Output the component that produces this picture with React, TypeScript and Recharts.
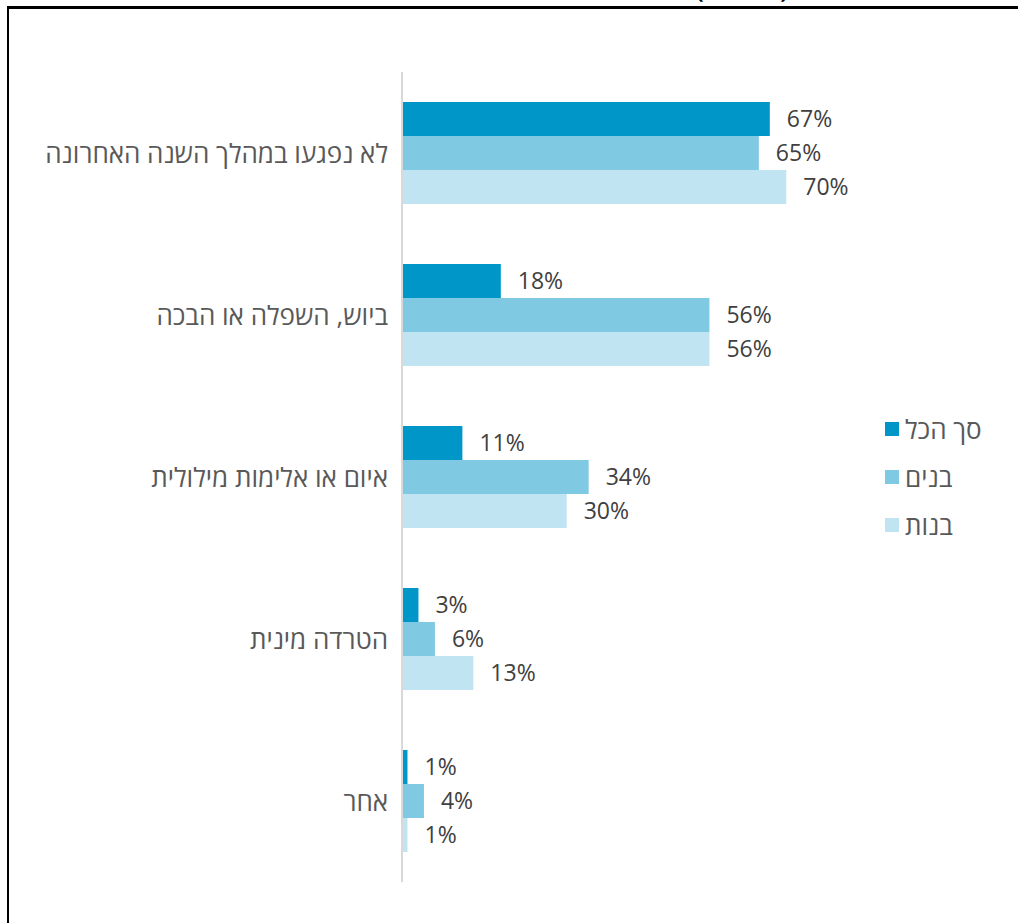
import React from "react";
import { BarChart, Bar, XAxis, YAxis, LabelList } from "recharts";

const categories = [
  "לא נפגעו במהלך השנה האחרונה",
  "ביוש, השפלה או הבכה",
  "איום או אלימות מילולית",
  "הטרדה מינית",
  "אחר",
];
const totalValues = [67, 18, 11, 3, 1];
const boysValues = [65, 56, 34, 6, 4];
const girlsValues = [70, 56, 30, 13, 1];
const seriesNames = ["סך הכל", "בנים", "בנות"];
const seriesColors = ["#0096C8", "#7FC9E3", "#C1E4F3"];

const data = categories.map((name, i) => ({
  name,
  total: totalValues[i],
  boys: boysValues[i],
  girls: girlsValues[i],
}));

const keys = ["total", "boys", "girls"];

const FONT = "'Open Sans', 'Noto Sans', 'Liberation Sans', sans-serif";

const CategoryTick = (props: any) => {
  const { x, y, payload } = props;
  return (
    <text
      x={x}
      y={y}
      dy={10}
      textAnchor="end"
      fill="#595959"
      fontSize={26}
      fontFamily={FONT}
    >
      {payload.value}
    </text>
  );
};

export default function App() {
  return (
    <div
      style={{
        position: "absolute",
        left: 0,
        top: 0,
        width: 1018,
        height: 923,
        background: "#fff",
        overflow: "hidden",
      }}
    >
      <div
        style={{
          position: "absolute",
          left: 642,
          top: -26,
          width: 200,
          textAlign: "center",
          fontFamily: FONT,
          fontWeight: 700,
          fontSize: 22,
          color: "#000",
          direction: "rtl",
        }}
      >
        (באחוזים)
      </div>
      <div
        style={{
          position: "absolute",
          left: 7,
          top: 6,
          width: 1011,
          height: 3,
          background: "#000",
        }}
      />
      <div
        style={{
          position: "absolute",
          left: 7,
          top: 6,
          width: 2,
          height: 917,
          background: "#000",
        }}
      />
      <div style={{ position: "absolute", left: 0, top: 0 }}>
        <BarChart
          width={1018}
          height={923}
          data={data}
          layout="vertical"
          margin={{ top: 72, right: 67, bottom: 41, left: 0 }}
          barCategoryGap={30}
          barGap={0}
        >
          <XAxis type="number" domain={[0, 100]} hide />
          <YAxis
            type="category"
            dataKey="name"
            width={402}
            axisLine={{ stroke: "#D9D9D9", strokeWidth: 2 }}
            tickLine={false}
            tickSize={0}
            tickMargin={14}
            tick={<CategoryTick />}
            interval={0}
          />
          {keys.map((k, i) => (
            <Bar
              key={k}
              dataKey={k}
              name={seriesNames[i]}
              fill={seriesColors[i]}
              isAnimationActive={false}
            >
              <LabelList
                dataKey={k}
                position="right"
                offset={17}
                fill="#404040"
                fontSize={23}
                fontFamily={FONT}
                formatter={(v: any) => `${v}%`}
              />
            </Bar>
          ))}
        </BarChart>
      </div>
      <div style={{ position: "absolute", left: 885, top: 412 }}>
        {seriesNames.map((n, i) => (
          <div
            key={n}
            style={{
              display: "flex",
              alignItems: "center",
              height: 34,
              marginBottom: 14,
            }}
          >
            <div
              style={{
                width: 14,
                height: 14,
                background: seriesColors[i],
                marginRight: 6,
              }}
            />
            <div
              style={{
                fontFamily: FONT,
                fontSize: 26,
                color: "#595959",
                direction: "rtl",
                lineHeight: "34px",
              }}
            >
              {n}
            </div>
          </div>
        ))}
      </div>
    </div>
  );
}
